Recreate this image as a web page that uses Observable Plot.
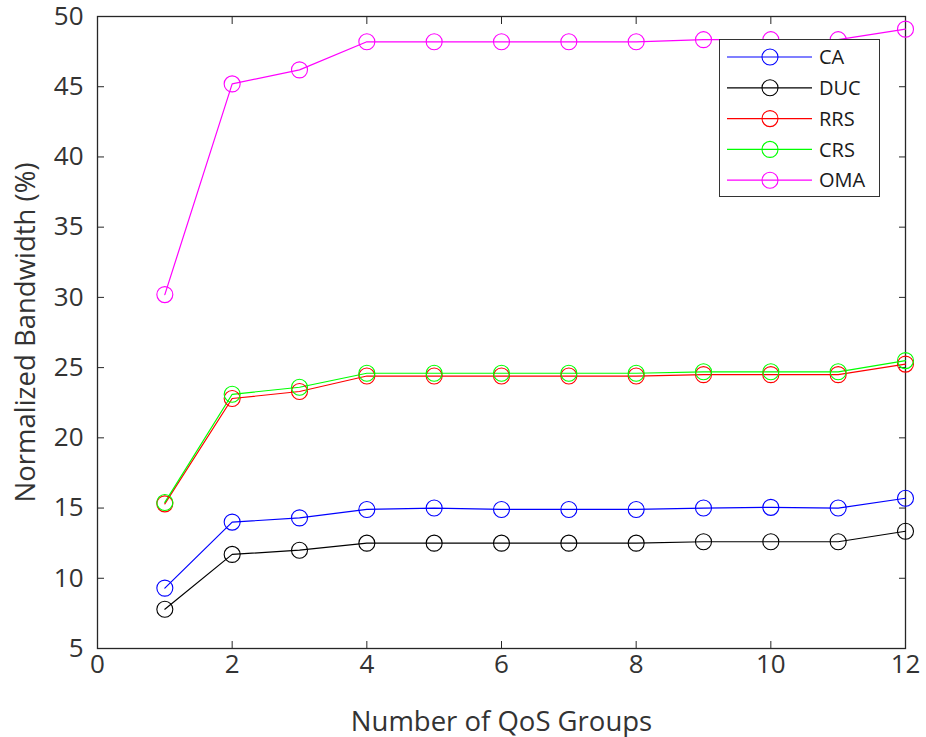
<!DOCTYPE html>
<html>
<head>
<meta charset="utf-8">
<script src="https://cdn.jsdelivr.net/npm/d3@7"></script>
<script src="https://cdn.jsdelivr.net/npm/@observablehq/plot@0.6"></script>
<style>
  html, body { margin: 0; padding: 0; background: #fff; }
  #wrap { position: relative; width: 926px; height: 737px; }
  #legend { position: absolute; left: 719px; top: 39px; width: 161px; height: 158px;
            border: 1.5px solid #333; background: #fff; box-sizing: border-box; }
  #legend svg { display: block; }
</style>
</head>
<body>
<div id="wrap"></div>
<script>
const groups = [1, 2, 3, 4, 5, 6, 7, 8, 9, 10, 11, 12];
const seriesNames = ["CA", "DUC", "RRS", "CRS", "OMA"];
const seriesColors = ["#0000ff", "#000000", "#ff0000", "#00ff00", "#ff00ff"];
const ca  = [9.3, 14.0, 14.3, 14.9, 15.0, 14.9, 14.9, 14.9, 15.0, 15.05, 15.0, 15.7];
const duc = [7.8, 11.7, 12.0, 12.5, 12.5, 12.5, 12.5, 12.5, 12.6, 12.6, 12.6, 13.35];
const rrs = [15.3, 22.8, 23.3, 24.4, 24.4, 24.4, 24.4, 24.4, 24.5, 24.5, 24.5, 25.25];
const crs = [15.4, 23.1, 23.6, 24.6, 24.6, 24.6, 24.6, 24.6, 24.7, 24.7, 24.7, 25.5];
const oma = [30.2, 45.2, 46.2, 48.2, 48.2, 48.2, 48.2, 48.2, 48.35, 48.35, 48.35, 49.1];
const xTicks = [0, 2, 4, 6, 8, 10, 12];
const yTicks = [5, 10, 15, 20, 25, 30, 35, 40, 45, 50];

const seriesValues = [ca, duc, rrs, crs, oma];
const data = [];
seriesNames.forEach((name, i) => {
  groups.forEach((g, j) => data.push({series: name, x: g, y: seriesValues[i][j]}));
});

const axisColor = "#262626";
const textColor = "#333333";

const chart = Plot.plot({
  width: 926,
  height: 737,
  marginLeft: 97,
  marginRight: 21,
  marginTop: 16,
  marginBottom: 89,
  style: {fontFamily: "'Open Sans', sans-serif", fontSize: "26px", color: textColor, background: "#fff"},
  x: {domain: [0, 12]},
  y: {domain: [5, 50]},
  color: {domain: seriesNames, range: seriesColors},
  marks: [
    Plot.axisX({anchor: "bottom", ticks: xTicks, tickSize: -7, tickPadding: 13, stroke: axisColor, fill: textColor,
      label: null}),
    Plot.axisX({anchor: "bottom", ticks: [], tickSize: 0, fill: textColor, fontSize: 27.5,
      label: "Number of QoS Groups", labelAnchor: "center", labelOffset: 82, labelArrow: "none"}),
    Plot.axisX({anchor: "top", ticks: xTicks, tickSize: -7, tickFormat: () => "", stroke: axisColor, label: null}),
    Plot.axisY({anchor: "left", ticks: yTicks, tickSize: -7, tickPadding: 21, stroke: axisColor, fill: textColor,
      label: null}),
    Plot.axisY({anchor: "left", ticks: [], tickSize: 0, fill: textColor, fontSize: 27.5,
      label: "Normalized Bandwidth (%)", labelAnchor: "center", labelOffset: 82, labelArrow: "none"}),
    Plot.axisY({anchor: "right", ticks: yTicks, tickSize: -7, tickFormat: () => "", stroke: axisColor, label: null}),
    Plot.frame({stroke: axisColor, strokeWidth: 1.3}),
    Plot.line(data, {x: "x", y: "y", z: "series", stroke: "series", strokeWidth: 1.2}),
    Plot.dot(data, {x: "x", y: "y", stroke: "series", r: 8, strokeWidth: 1.1, fill: "none"})
  ]
});

const wrap = document.getElementById("wrap");
wrap.appendChild(chart);

// Legend
const legend = document.createElement("div");
legend.id = "legend";
wrap.appendChild(legend);
const lsvg = d3.select(legend).append("svg").attr("width", 158).attr("height", 155);
seriesNames.forEach((name, i) => {
  const y = 17 + i * 30.8;
  const g = lsvg.append("g");
  g.append("line").attr("x1", 7).attr("x2", 92).attr("y1", y).attr("y2", y)
    .attr("stroke", seriesColors[i]).attr("stroke-width", 1.2);
  g.append("circle").attr("cx", 50).attr("cy", y).attr("r", 8)
    .attr("fill", "none").attr("stroke", seriesColors[i]).attr("stroke-width", 1.1);
  g.append("text").attr("x", 99).attr("y", y).attr("dy", "0.36em")
    .attr("font-family", "'Open Sans', sans-serif").attr("font-size", "20px").attr("fill", "#1a1a1a")
    .text(name);
});
</script>
</body>
</html>
